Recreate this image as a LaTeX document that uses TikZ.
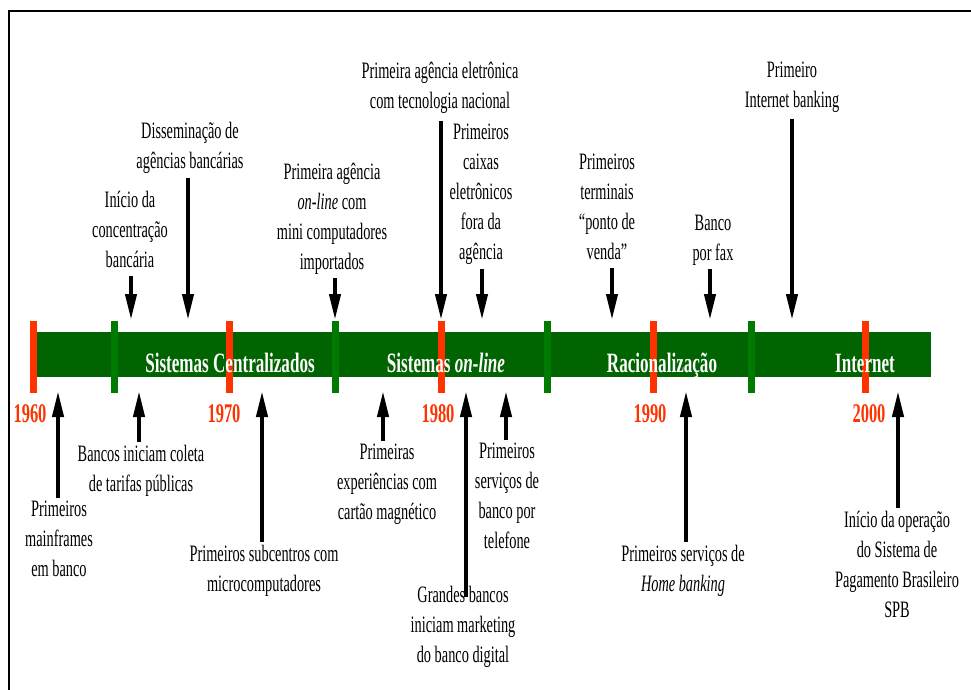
\documentclass[tikz,border=0pt]{standalone}
\usepackage{fontspec}
\setmainfont{Liberation Serif}[FakeStretch=0.61]
\usetikzlibrary{arrows.meta}

\definecolor{bargreen}{RGB}{0,100,0}
\definecolor{tickgreen}{RGB}{0,122,0}
\definecolor{tickred}{RGB}{255,51,0}

\begin{document}
\begin{tikzpicture}[x=1pt,y=-1pt,
  event/.style={align=center, inner sep=0pt,
    font=\fontsize{23.5}{30}\selectfont,
    execute at begin node=\strut, execute at end node=\strut},
  era/.style={text=white, inner sep=0pt, anchor=base,
    font=\fontsize{28}{30}\selectfont\bfseries},
  yearlbl/.style={text=tickred, inner sep=0pt, anchor=base,
    font=\fontsize{27}{30}\selectfont\bfseries},
  pointer/.style={-{Triangle[length=26pt,width=11pt]}, line width=4pt},
  tickmark/.style={draw=none, inner sep=0pt, minimum width=7pt, minimum height=72pt},
  redtick/.style={tickmark, fill=tickred},
  greentick/.style={tickmark, fill=tickgreen}
]
\useasboundingbox (0,0) rectangle (971,690);
\fill[white] (0,0) rectangle (971,690);

% open frame (left and top edges)
\draw[line width=2pt] (8.5,690) -- (8.5,10.7) -- (971,10.7);

% time bar
\fill[bargreen] (37,332) rectangle (931,377);

% decade and period ticks
\node[redtick]   (t1960) at (33,357)    {};
\node[greentick] (g1)    at (114.5,357) {};
\node[redtick]   (t1970) at (229,357)   {};
\node[greentick] (g2)    at (335,357)   {};
\node[redtick]   (t1980) at (441,357)   {};
\node[greentick] (g3)    at (547.5,357) {};
\node[redtick]   (t1990) at (653,357)   {};
\node[greentick] (g4)    at (751.5,357) {};
\node[redtick]   (t2000) at (865,357)   {};

% era names
\node[era] (eraA) at (230,372) {Sistemas Centralizados};
\node[era] (eraB) at (446,372) {Sistemas \textit{on-line}};
\node[era] (eraC) at (662,372) {Racionalização};
\node[era] (eraD) at (865,372) {Internet};

% years
\node[yearlbl] (y1960) at (30,422)  {1960};
\node[yearlbl] (y1970) at (224,422) {1970};
\node[yearlbl] (y1980) at (438,422) {1980};
\node[yearlbl] (y1990) at (650,422) {1990};
\node[yearlbl] (y2000) at (869,422) {2000};

% ---- events above the bar ----
\node[event] (concent) at (130,233.5) {Início da\\concentração\\bancária};
\node[event] (dissem)  at (190,150)   {Disseminação de\\agências bancárias};
\node[event] (online)  at (332,220.5) {Primeira agência\\\textit{on-line} com\\mini computadores\\importados};
\node[event] (eletr)   at (440,90)    {Primeira agência eletrônica\\com tecnologia nacional};
\node[event] (caixas)  at (481,196.5) {Primeiros\\caixas\\eletrônicos\\fora da\\agência};
\node[event] (pdv)     at (607,211)   {Primeiros\\terminais\\``ponto de\\venda''};
\node[event] (fax)     at (713,242)   {Banco\\por fax};
\node[event] (ibank)   at (792,89)    {Primeiro\\Internet banking};

\coordinate (concentTip) at (131,320);
\coordinate (dissemTip)  at (188,320);
\coordinate (onlineTip)  at (335,320);
\coordinate (eletrTip)   at (441,320);
\coordinate (caixasTip)  at (482,320);
\coordinate (pdvTip)     at (612,320);
\coordinate (faxTip)     at (710,320);
\coordinate (ibankTip)   at (792,320);

\draw[pointer] (concent.south -| concentTip) -- (concentTip);
\draw[pointer] (dissem.south -| dissemTip) -- (dissemTip);
\draw[pointer] (online.south -| onlineTip) -- (onlineTip);
\draw[pointer] ([yshift=-3pt]eletr.south -| eletrTip) -- (eletrTip);
\draw[pointer] (caixas.south -| caixasTip) -- (caixasTip);
\draw[pointer] (pdv.south -| pdvTip) -- (pdvTip);
\draw[pointer] (fax.south -| faxTip) -- (faxTip);
\draw[pointer] ([yshift=-3pt]ibank.south -| ibankTip) -- (ibankTip);

% ---- events below the bar ----
\node[event] (mainfr)   at (59,543)  {Primeiros\\mainframes\\em banco};
\node[event] (tarifas)  at (141,473) {Bancos iniciam coleta\\de tarifas públicas};
\node[event] (subcent)  at (264,573) {Primeiros subcentros com\\microcomputadores};
\node[event] (cartao)   at (387,486) {Primeiras\\experiências com\\cartão magnético};
\node[event] (digital)  at (463,629) {Grandes bancos\\iniciam marketing\\do banco digital};
\node[event] (telefone) at (507,500) {Primeiros\\serviços de\\banco por\\telefone};
\node[event] (home)     at (683,573) {Primeiros serviços de\\\textit{Home banking}};
\node[event] (spb)      at (897,569) {Início da operação\\do Sistema de\\Pagamento Brasileiro\\SPB};

\coordinate (mainfrTip)   at (58,391);
\coordinate (tarifasTip)  at (139,391);
\coordinate (subcentTip)  at (262,391);
\coordinate (cartaoTip)   at (383,391);
\coordinate (digitalTip)  at (466,391);
\coordinate (telefoneTip) at (506,391);
\coordinate (homeTip)     at (686,391);
\coordinate (spbTip)      at (898,391);

\draw[pointer] ([yshift=3pt]mainfr.north -| mainfrTip) -- (mainfrTip);
\draw[pointer] ([yshift=3pt]tarifas.north -| tarifasTip) -- (tarifasTip);
\draw[pointer] ([yshift=3pt]subcent.north -| subcentTip) -- (subcentTip);
\draw[pointer] ([yshift=3pt]cartao.north -| cartaoTip) -- (cartaoTip);
\draw[pointer] ([yshift=-11pt]digital.north -| digitalTip) -- (digitalTip);
\draw[pointer] ([yshift=3pt]telefone.north -| telefoneTip) -- (telefoneTip);
\draw[pointer] ([yshift=3pt]home.north -| homeTip) -- (homeTip);
\draw[pointer] ([yshift=3pt]spb.north -| spbTip) -- (spbTip);
\end{tikzpicture}
\end{document}
